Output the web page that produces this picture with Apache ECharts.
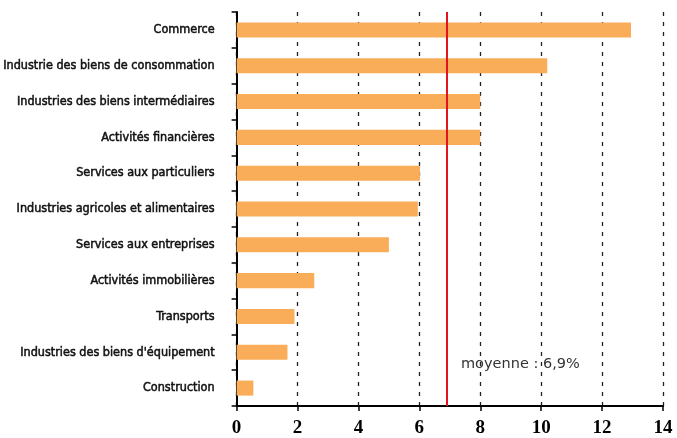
<!DOCTYPE html>
<html>
<head>
<meta charset="utf-8">
<script src="https://cdn.jsdelivr.net/npm/echarts@6/dist/echarts.min.js"></script>
<style>
  html, body { margin: 0; padding: 0; background: #fff; }
  #chart { width: 677px; height: 438px; }
</style>
</head>
<body>
<div id="chart"></div>
<script>
// categories, top to bottom
const categories = [
  'Commerce',
  'Industrie des biens de consommation',
  'Industries des biens intermédiaires',
  'Activités financières',
  'Services aux particuliers',
  'Industries agricoles et alimentaires',
  'Services aux entreprises',
  'Activités immobilières',
  'Transports',
  "Industries des biens d'équipement",
  'Construction'
];
const values = [12.95, 10.2, 8.0, 8.0, 6.02, 5.95, 5.0, 2.55, 1.9, 1.67, 0.55];
const average = 6.9;
const xTicks = [0, 2, 4, 6, 8, 10, 12, 14];

const chart = echarts.init(document.getElementById('chart'));

chart.setOption({
  animation: false,
  grid: {
    left: 235,
    right: 14,
    top: 12,
    bottom: 30
  },
  xAxis: {
    type: 'value',
    min: xTicks[0],
    max: xTicks[xTicks.length - 1],
    interval: 2,
    axisLine: { show: true, lineStyle: { color: '#000', width: 2 } },
    axisTick: { show: true, length: 5, lineStyle: { color: '#000', width: 1.5 } },
    axisLabel: {
      color: '#000',
      fontFamily: 'Liberation Serif',
      fontWeight: 'bold',
      fontSize: 19,
      margin: 13
    },
    splitLine: {
      show: true,
      lineStyle: { color: '#222', type: [4, 6], width: 1.3 }
    }
  },
  yAxis: {
    type: 'category',
    inverse: true,
    data: categories,
    axisLine: { show: true, lineStyle: { color: '#000', width: 2 } },
    axisTick: { show: true, length: 5, lineStyle: { color: '#000', width: 1.5 } },
    axisLabel: {
      color: '#111',
      fontFamily: '"DejaVu Sans Condensed", "DejaVu Sans"',
      fontSize: 12.5,
      textBorderColor: '#111',
      textBorderWidth: 0.5,
      margin: 22
    },
    splitLine: { show: false }
  },
  series: [
    {
      type: 'bar',
      data: values,
      barWidth: '42%',
      itemStyle: { color: '#F9AD59' },
      markLine: {
        silent: true,
        symbol: 'none',
        label: { show: false },
        lineStyle: { color: '#E2141E', width: 2, type: 'solid' },
        data: [{ xAxis: average }]
      }
    }
  ],
  graphic: [
    {
      type: 'text',
      left: 461,
      top: 357,
      style: {
        text: 'moyenne : 6,9%',
        fill: '#333',
        font: '14.5px "DejaVu Sans"'
      }
    }
  ]
});
</script>
</body>
</html>
